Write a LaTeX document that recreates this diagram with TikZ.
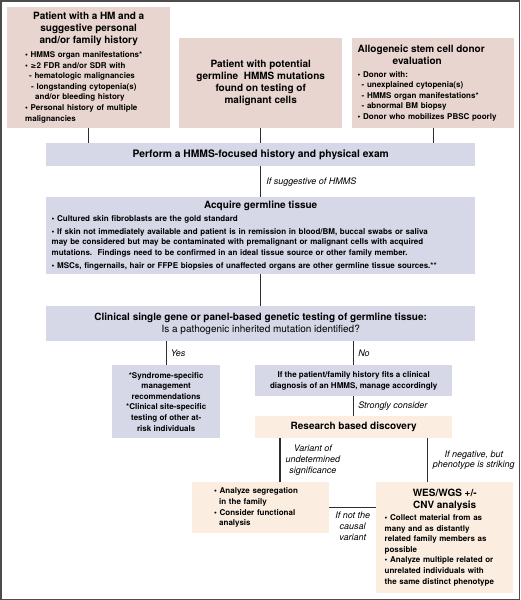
\documentclass[tikz,border=0pt]{standalone}
\usepackage{fontspec}
\setmainfont{TeX Gyre Heros}
\newfontfamily\hmsym{DejaVu Sans}
\usetikzlibrary{positioning}
\definecolor{hmpink}{RGB}{232,213,207}
\definecolor{hmblue}{RGB}{214,216,231}
\definecolor{hmpeach}{RGB}{251,238,224}
\definecolor{hmline}{RGB}{45,45,45}
\newcommand{\hmtitle}{\fontsize{10}{12}\selectfont}
\tikzset{
  box/.style={anchor=north west, inner sep=0pt, font=\bfseries\fontsize{8}{10.6}\selectfont},
  pinkbox/.style={box, fill=hmpink},
  bluebox/.style={box, fill=hmblue},
  peachbox/.style={box, fill=hmpeach},
  link/.style={draw=hmline, line width=1.1pt},
  note/.style={font=\itshape\fontsize{9}{10.6}\selectfont, inner sep=0pt, align=center}
}
\begin{document}
\begin{tikzpicture}[x=1pt, y=-1pt]
\useasboundingbox (0,0) rectangle (520,600);
\draw[gray!60!black, line width=1.5pt] (0.75,0.75) rectangle (519.25,599.25);
% entry points
\node[pinkbox, minimum width=163pt, minimum height=121pt, text width=127pt] (hist) at (7,7)
  {{\centering\hmtitle Patient with a HM and a\\ suggestive personal\\ and/or family history\par}\vspace{3pt}
   \raggedright • HMMS organ manifestations*\\
   • {\hmsym\fontsize{7}{10.6}\selectfont ≥}2 FDR and/or SDR with\\
   \hspace*{4pt}- hematologic malignancies\\
   \hspace*{6pt}- longstanding cytopenia(s)\\
   \hspace*{10pt}and/or bleeding history\\
   • Personal history of multiple\\
   malignancies\par};
\node[pinkbox, minimum width=163pt, minimum height=90pt, align=center, font=\bfseries\hmtitle] (germ) at (179,38)
  {Patient with potential\\ germline\ \ HMMS mutations\\ found on testing of\\ malignant cells};
\node[pinkbox, minimum width=162pt, minimum height=90pt, text width=151pt] (donor) at (352,38)
  {\raggedright{\hmtitle Allogeneic stem cell donor\\ \hspace*{35pt}evaluation\par}\vspace{2pt}
   • Donor with:\\
   \hspace*{4pt}- unexplained cytopenia(s)\\
   \hspace*{4pt}- HMMS organ manifestations*\\
   \hspace*{4pt}- abnormal BM biopsy\\
   • Donor who mobilizes PBSC poorly\par};
% work-up
\node[bluebox, minimum width=429pt, minimum height=23pt, font=\bfseries\fontsize{10.3}{12}\selectfont] (exam) at (46,143)
  {Perform a HMMS-focused history and physical exam};
\node[bluebox, minimum width=429pt, minimum height=77pt, text width=418pt] (tissue) at (46,197)
  {{\centering\hmtitle Acquire germline tissue\par}\vspace{2pt}
   \raggedright • Cultured skin fibroblasts are the gold standard\\[2.5pt]
   • If skin not immediately available and patient is in remission in blood/BM, buccal swabs or saliva\\
   may be considered but may be contaminated with premalignant or malignant cells with acquired\\
   mutations.\ \ Findings need to be confirmed in an ideal tissue source or other family member.\\[2.5pt]
   • MSCs, fingernails, hair or FFPE biopsies of unaffected organs are other germline tissue sources.**\par};
\node[bluebox, minimum width=429pt, minimum height=35pt, align=center, font=\hmtitle] (testing) at (46,306)
  {\bfseries Clinical single gene or panel-based genetic testing of germline tissue:\\
   Is a pathogenic inherited mutation identified?};
% outcomes
\node[bluebox, minimum width=108pt, minimum height=73pt, align=center] (manage) at (112,365)
  {*Syndrome-specific\\ management\\ recommendations\\ *Clinical site-specific\\ testing of other at-\\ risk individuals};
\node[bluebox, minimum width=197pt, minimum height=31pt, align=center] (clinical) at (255,365)
  {If the patient/family history fits a clinical\\ diagnosis of an HMMS, manage accordingly};
\node[peachbox, minimum width=197pt, minimum height=22pt, font=\bfseries\hmtitle] (research) at (255,416)
  {Research based discovery};
\node[peachbox, minimum width=137pt, minimum height=51pt, text width=93pt] (segreg) at (192,482)
  {\raggedright • Analyze segregation\\ \hspace*{5pt}in the family\\ • Consider functional\\ \hspace*{5pt}analysis\par};
\node[peachbox, minimum width=137pt, minimum height=111pt, text width=120pt] (wes) at (376,482)
  {{\centering\hmtitle WES/WGS +/-\\ CNV analysis\par}\vspace{1pt}
   \raggedright • Collect material from as\\ many and as distantly\\ related family members as\\ possible\\
   • Analyze multiple related or\\ unrelated individuals with\\ the same distinct phenotype\par};
% connectors
\draw[link] (hist.south) -- (hist.south |- exam.north);
\draw[link] (germ.south) -- (germ.south |- exam.north);
\draw[link] (donor.south) -- (donor.south |- exam.north);
\draw[link] (exam.south) -- node[note, right=5pt] {If suggestive of HMMS} (tissue.north);
\draw[link] (tissue.south) -- (testing.north);
\draw[link] (manage.north |- testing.south) -- node[note, right=4pt] {Yes} (manage.north);
\draw[link] (clinical.north |- testing.south) -- node[note, right=4pt] {No} (clinical.north);
\draw[link] (clinical.south) -- node[note, right=4pt] {Strongly consider} (research.north);
\coordinate (vus) at ([xshift=25pt]research.south west);
\coordinate (neg) at ([xshift=-25pt]research.south east);
\draw[link] (vus) -- node[note, right=5pt] {Variant of\\ undetermined\\ significance} (vus |- segreg.north);
\draw[link] (neg) -- node[note, right=5pt] {If negative, but\\ phenotype is striking} (neg |- wes.north);
\draw[link] (segreg.east) -- node[note, below=4pt] {If not the\\ causal\\ variant} (segreg.east -| wes.west);
\end{tikzpicture}
\end{document}
